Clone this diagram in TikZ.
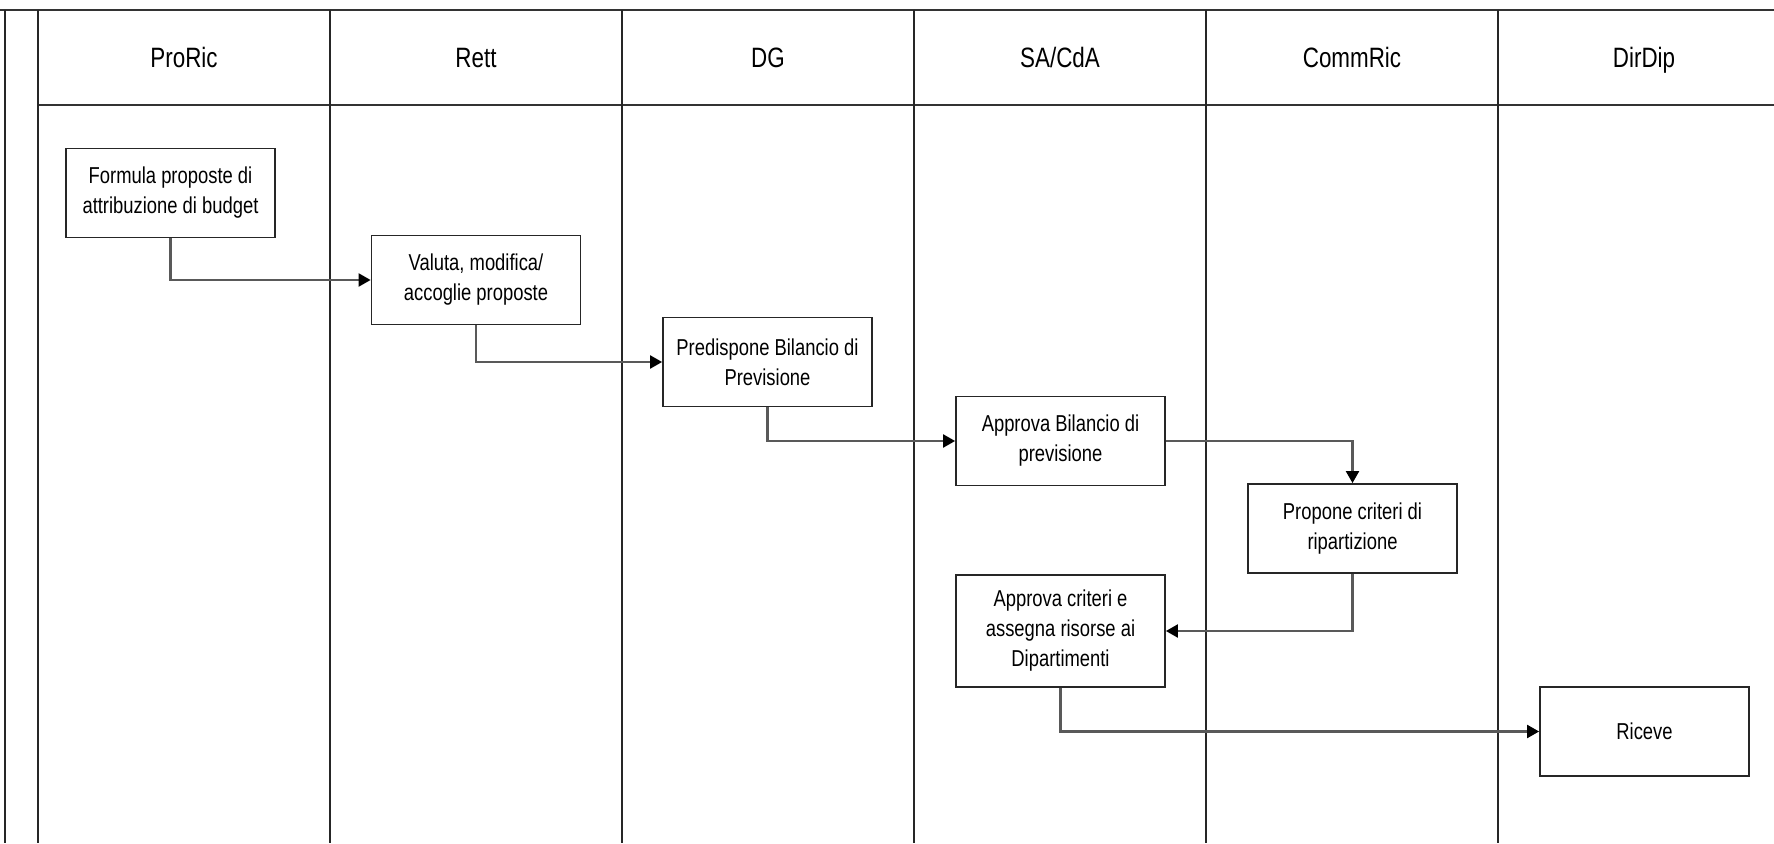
\documentclass[tikz,border=0pt]{standalone}
\usepackage{fontspec}
\setmainfont[FakeStretch=0.8]{Liberation Sans}
\usetikzlibrary{arrows.meta}
\newcommand\bxfont{\fontsize{23}{30}\selectfont}
\newcommand\hdfont{\fontsize{28}{32}\selectfont}
\tikzset{
  lane/.style={line width=2pt, draw=black!85},
  hline/.style={line width=2.4pt, draw=black!80},
  hdr/.style={font=\hdfont, inner sep=0pt, anchor=base},
  act/.style={draw=black!85, line width=1.8pt, fill=white, minimum width=209pt, minimum height=89pt, inner sep=0pt, align=center, font=\bxfont},
  flow/.style={draw=black!65, line width=2.2pt, -{Triangle[length=12pt,width=13pt,color=black]}}
}
\begin{document}
\begin{tikzpicture}[x=1pt,y=-1pt]
\useasboundingbox[fill=white] (0,0) rectangle (1774,843);
% frame and lanes
\draw[hline] (0,10) -- (1774,10);
\draw[hline] (38,105) -- (1774,105);
\draw[lane] (5,10) -- (5,843);
\foreach \x in {38,330,622,914,1206,1498} \draw[lane] (\x,10) -- (\x,843);
% headers
\node[hdr] (h1) at (184,67) {ProRic};
\node[hdr] (h2) at (476,67) {Rett};
\node[hdr] (h3) at (768,67) {DG};
\node[hdr] (h4) at (1060,67) {SA/CdA};
\node[hdr] (h5) at (1352,67) {CommRic};
\node[hdr] (h6) at (1644,67) {DirDip};
% activities
\node[act] (b1) at (170.5,193) {Formula proposte di\\attribuzione di budget};
\node[act] (b2) at (476,280) {Valuta, modifica/\\accoglie proposte};
\node[act] (b3) at (767.5,362) {Predispone Bilancio di\\Previsione};
\node[act] (b4) at (1060.5,441) {Approva Bilancio di\\previsione};
\node[act] (b5) at (1352.5,528.5) {Propone criteri di\\ripartizione};
\node[act, minimum height=112pt] (b6) at (1060.5,631) {Approva criteri e\\assegna risorse ai\\Dipartimenti};
\node[act] (b7) at (1644.5,731.5) {Riceve};
% connectors
\draw[flow] (b1.south) |- (b2.west);
\draw[flow] (b2.south) |- (b3.west);
\draw[flow] (b3.south) |- (b4.west);
\draw[flow] (b4.east) -| (b5.north);
\draw[flow] (b5.south) |- (b6.east);
\draw[flow] (b6.south) |- (b7.west);
\end{tikzpicture}
\end{document}
